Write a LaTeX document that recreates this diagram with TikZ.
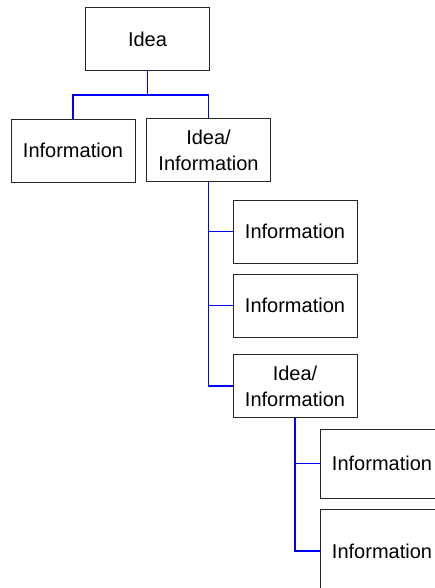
\documentclass[tikz,border=0pt]{standalone}
\usepackage{fontspec}
\setmainfont{Liberation Sans}
\usetikzlibrary{positioning}

\begin{document}
\begin{tikzpicture}[
    x=1pt, y=-1pt,
    box/.style={rectangle, draw=black!85, line width=0.9pt, fill=white, minimum width=124pt, minimum height=63pt, inner sep=0pt, align=center, font=\fontsize{20}{26}\selectfont},
    bigbox/.style={box, minimum height=69pt},
    link/.style={draw=blue, line width=1.2pt}
]
\clip (0,0) rectangle (435,588);

% Top level
\node[box] (idea) at (147.5,39) {Idea};
\node[box] (info) at (73,150.5) {Information};
\node[box] (sub) at (208.5,150) {Idea/\\Information};

% Second level
\node[box] (infoA) at (295,231.5) {Information};
\node[box] (infoB) at (295,305.5) {Information};
\node[box] (subB) at (295,386) {Idea/\\Information};

% Third level
\node[bigbox] (infoC) at (382,463.5) {Information};
\node[bigbox, minimum height=84pt] (infoD) at (382,551) {Information};

% Links
\draw[link, line width=1.8pt] (idea.south) -- ++(0,24) coordinate (fork);
\draw[link] (info.north) |- (fork) -| (sub.north);
\draw[link, line width=1.8pt] (sub.south) -- ++(0,48);
\draw[link] (sub.south) |- (infoA.west);
\draw[link] (sub.south) |- (infoB.west);
\draw[link] (sub.south) |- (subB.west);
\draw[link] (subB.south) |- (infoC.west);
\draw[link] (subB.south) |- (infoD.west);

\end{tikzpicture}
\end{document}
